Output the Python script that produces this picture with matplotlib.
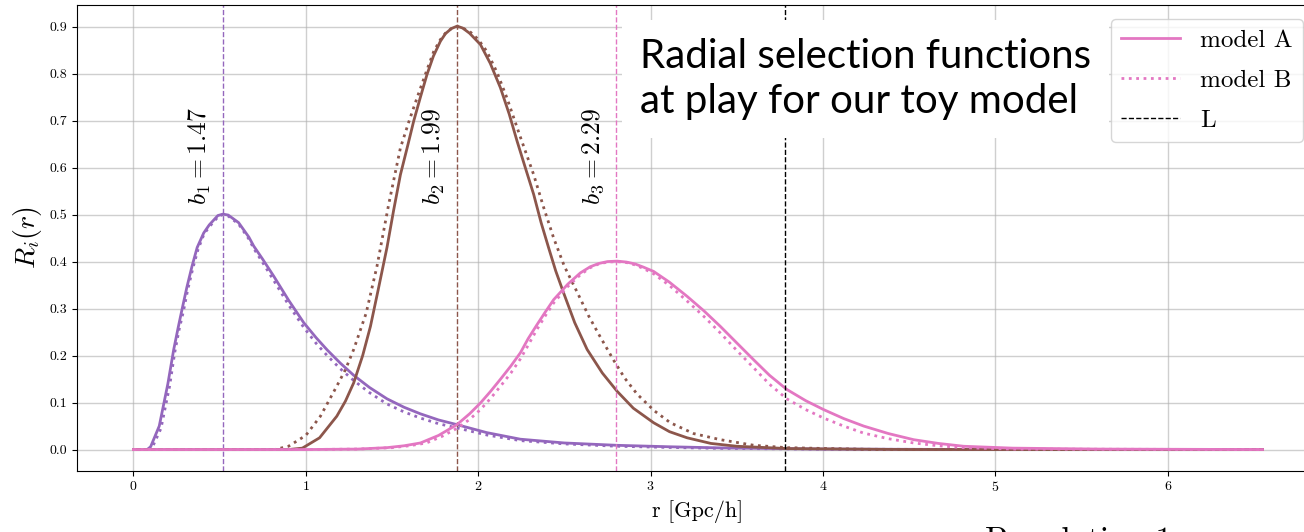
import numpy as np
import matplotlib
matplotlib.use('Agg')
import matplotlib.pyplot as plt

plt.rcParams['font.family'] = 'serif'
plt.rcParams['font.serif'] = ['cmr10']
plt.rcParams['mathtext.fontset'] = 'cm'
plt.rcParams['axes.formatter.use_mathtext'] = True

# radial selection functions, r in Gpc/h
r_b1_A = [0.0, 0.08, 0.10, 0.15, 0.20, 0.234, 0.26, 0.282, 0.31, 0.34, 0.37, 0.408, 0.44, 0.49, 0.52, 0.55,
          0.61, 0.67, 0.698, 0.75, 0.814, 0.9, 0.988, 1.06, 1.124, 1.2, 1.278, 1.37, 1.471, 1.57, 1.665,
          1.77, 1.877, 2.05, 2.245, 2.5, 2.806, 3.1, 3.405, 4.0, 5.0, 6.55]
R_b1_A = [0.0, 0.0, 0.006, 0.05, 0.14, 0.213, 0.26, 0.298, 0.345, 0.390, 0.43, 0.461, 0.478, 0.498, 0.501,
          0.499, 0.483, 0.452, 0.433, 0.405, 0.369, 0.318, 0.270, 0.238, 0.212, 0.184, 0.158, 0.132, 0.108,
          0.090, 0.076, 0.063, 0.053, 0.036, 0.022, 0.014, 0.009, 0.006, 0.0035, 0.001, 0.0, 0.0]
r_b1_B = [0.0, 0.09, 0.11, 0.16, 0.21, 0.24, 0.265, 0.29, 0.315, 0.345, 0.375, 0.41, 0.445, 0.495, 0.52, 0.55,
          0.61, 0.67, 0.698, 0.75, 0.814, 0.9, 0.988, 1.06, 1.124, 1.2, 1.278, 1.37, 1.471, 1.57, 1.665,
          1.77, 1.877, 2.05, 2.245, 2.5, 2.806, 3.1, 3.405, 4.0, 5.0, 6.55]
R_b1_B = [0.0, 0.0, 0.005, 0.045, 0.135, 0.207, 0.255, 0.294, 0.34, 0.386, 0.426, 0.459, 0.476, 0.497, 0.500,
          0.497, 0.480, 0.448, 0.428, 0.398, 0.360, 0.308, 0.260, 0.226, 0.200, 0.172, 0.147, 0.121, 0.097,
          0.080, 0.067, 0.055, 0.046, 0.031, 0.019, 0.012, 0.007, 0.0045, 0.0025, 0.0008, 0.0, 0.0]

r_b2_A = [0.0, 0.9, 0.98, 1.08, 1.18, 1.23, 1.278, 1.33, 1.375, 1.42, 1.471, 1.51, 1.549, 1.59, 1.626, 1.665,
          1.703, 1.74, 1.781, 1.81, 1.845, 1.878, 1.91, 1.95, 2.013, 2.07, 2.129, 2.18, 2.226, 2.275, 2.322,
          2.365, 2.409, 2.45, 2.496, 2.56, 2.632, 2.72, 2.806, 2.9, 3.018, 3.11, 3.212, 3.35, 3.5, 3.8, 4.5, 6.55]
R_b2_A = [0.0, 0.0, 0.003, 0.025, 0.071, 0.103, 0.142, 0.20, 0.262, 0.34, 0.43, 0.51, 0.585, 0.645, 0.699, 0.75,
          0.798, 0.837, 0.869, 0.885, 0.896, 0.901, 0.897, 0.886, 0.862, 0.822, 0.770, 0.714, 0.656, 0.598, 0.543,
          0.483, 0.429, 0.38, 0.333, 0.270, 0.213, 0.163, 0.124, 0.088, 0.057, 0.038, 0.025, 0.013, 0.007, 0.002,
          0.0, 0.0]
r_b2_B = [0.0, 0.82, 0.9, 1.0, 1.085, 1.18, 1.23, 1.278, 1.35, 1.413, 1.48, 1.549, 1.60, 1.645, 1.70, 1.742,
          1.78, 1.81, 1.845, 1.878, 1.91, 1.95, 2.0, 2.051, 2.11, 2.167, 2.24, 2.322, 2.38, 2.438, 2.50, 2.574,
          2.64, 2.70, 2.786, 2.85, 2.922, 3.02, 3.115, 3.25, 3.405, 3.6, 3.79, 4.3, 6.55]
R_b2_B = [0.0, 0.0, 0.007, 0.03, 0.071, 0.135, 0.17, 0.213, 0.29, 0.39, 0.52, 0.642, 0.70, 0.748, 0.805, 0.847,
          0.872, 0.886, 0.896, 0.900, 0.897, 0.890, 0.873, 0.847, 0.802, 0.748, 0.67, 0.585, 0.515, 0.450, 0.39,
          0.335, 0.285, 0.245, 0.190, 0.152, 0.118, 0.083, 0.057, 0.034, 0.021, 0.009, 0.004, 0.0, 0.0]

r_b3_A = [0.0, 1.0, 1.3, 1.47, 1.57, 1.665, 1.77, 1.877, 1.95, 2.013, 2.07, 2.13, 2.19, 2.245, 2.29, 2.34, 2.39,
          2.438, 2.52, 2.593, 2.65, 2.70, 2.75, 2.806, 2.86, 2.91, 2.96, 3.018, 3.11, 3.212, 3.31, 3.405, 3.5,
          3.598, 3.69, 3.79, 3.9, 4.004, 4.12, 4.236, 4.38, 4.526, 4.67, 4.816, 5.1, 5.6, 6.55]
R_b3_A = [0.0, 0.0, 0.001, 0.004, 0.008, 0.014, 0.030, 0.053, 0.076, 0.099, 0.123, 0.150, 0.178, 0.206, 0.236,
          0.265, 0.293, 0.319, 0.352, 0.376, 0.389, 0.396, 0.400, 0.401, 0.399, 0.395, 0.388, 0.379, 0.356, 0.326,
          0.295, 0.262, 0.227, 0.191, 0.158, 0.128, 0.104, 0.085, 0.066, 0.050, 0.034, 0.021, 0.013, 0.007, 0.003,
          0.001, 0.0]
r_b3_B = [0.0, 1.0, 1.3, 1.5, 1.6, 1.7, 1.79, 1.877, 1.95, 2.013, 2.07, 2.13, 2.19, 2.245, 2.29, 2.34, 2.39,
          2.438, 2.52, 2.593, 2.65, 2.70, 2.75, 2.806, 2.86, 2.91, 2.96, 3.018, 3.11, 3.212, 3.31, 3.405, 3.5,
          3.598, 3.69, 3.79, 3.9, 4.004, 4.12, 4.236, 4.38, 4.526, 4.67, 4.816, 5.1, 6.55]
R_b3_B = [0.0, 0.0, 0.001, 0.004, 0.008, 0.014, 0.028, 0.045, 0.064, 0.085, 0.108, 0.135, 0.163, 0.193, 0.222,
          0.255, 0.285, 0.312, 0.347, 0.372, 0.387, 0.395, 0.399, 0.400, 0.398, 0.393, 0.385, 0.374, 0.349, 0.316,
          0.283, 0.248, 0.211, 0.174, 0.139, 0.108, 0.085, 0.067, 0.050, 0.035, 0.023, 0.014, 0.008, 0.004, 0.001,
          0.0]

peaks = [0.52, 1.878, 2.80]
bias = [1.47, 1.99, 2.29]
colors = ['tab:purple', 'tab:brown', 'tab:pink']
L = 3.78

curves = [(r_b1_A, R_b1_A, r_b1_B, R_b1_B),
          (r_b2_A, R_b2_A, r_b2_B, R_b2_B),
          (r_b3_A, R_b3_A, r_b3_B, R_b3_B)]

fig = plt.figure(figsize=(13.04, 5.32), dpi=100)
ax = fig.add_axes([0.059, 0.1152, 0.9525, 0.8754])

for i, (ra, Ra, rb, Rb) in enumerate(curves):
    ax.plot(ra, Ra, '-', color=colors[i], lw=2, label='model A')
    ax.plot(rb, Rb, ':', color=colors[i], lw=2, label='model B')
    ax.axvline(peaks[i], color=colors[i], ls='--', lw=1)
    ax.text(peaks[i] - 0.06, 0.52, rf'$b_{i+1} = {bias[i]:.2f}$', rotation=90,
            ha='right', va='bottom', fontsize=18.5)

ax.axvline(L, color='k', ls='--', lw=1, label='L')

ax.set_xlabel('r [Gpc/h]', fontsize=16)
ax.set_ylabel(r'$R_i(r)$', fontsize=20)
ax.set_yticks(np.arange(0, 1.0, 0.1))
ax.yaxis.set_major_formatter(matplotlib.ticker.FormatStrFormatter('%.1f'))
ax.tick_params(labelsize=10)
ax.grid(True, color='#b0b0b0', alpha=0.6, lw=1)

h, l = ax.get_legend_handles_labels()
leg = ax.legend(h[-3:], l[-3:], loc='upper right', bbox_to_anchor=(0.999, 0.964),
                bbox_transform=fig.transFigure, borderaxespad=0, fontsize=18,
                handlelength=2.36, handletextpad=0.8, labelspacing=0.7)
leg.set_zorder(10)

fig.text(0.4908, 0.928, 'Radial selection functions\nat play for our toy model',
         family='Lato', fontsize=29, va='top', ha='left', linespacing=1.25, zorder=6,
         bbox=dict(facecolor='white', edgecolor='none', boxstyle='square,pad=0.45'))

fig.text(985 / 1304, 5 / 532, 'Population 1', fontsize=24, va='top', ha='left')

plt.savefig('out.png', dpi=100)
